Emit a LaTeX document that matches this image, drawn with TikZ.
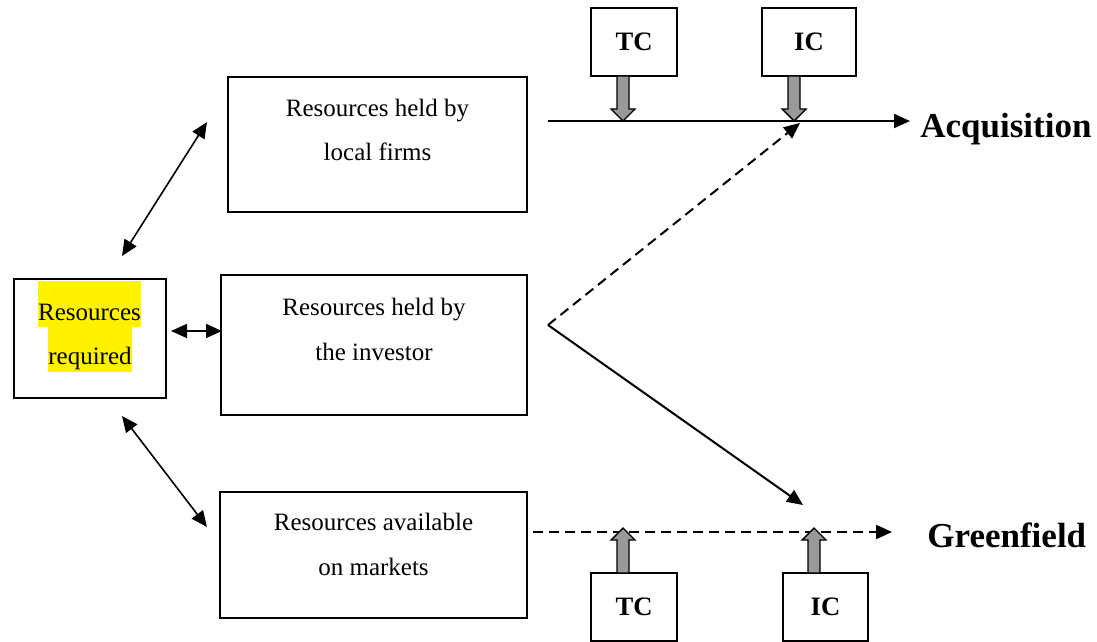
\documentclass[tikz,border=0pt]{standalone}
\usepackage{fontspec}
\setmainfont{Liberation Serif}
\usetikzlibrary{arrows.meta}
\begin{document}
\begin{tikzpicture}[x=0.5pt,y=-0.5pt,
 box/.style={draw, line width=0.9pt, inner sep=0pt},
 txt/.style={font=\fontsize{12.5}{15}\selectfont, inner sep=0pt, anchor=base},
 cost/.style={box, font=\bfseries\fontsize{13.3}{16}\selectfont},
 outcome/.style={font=\bfseries\fontsize{17.5}{21}\selectfont, inner sep=0pt, anchor=base west},
 conn/.style={line width=1pt, -{Triangle[length=8pt,width=7pt]}},
 dbl/.style={line width=0.8pt, {Triangle[length=8pt,width=7pt]}-{Triangle[length=8pt,width=7pt]}},
 gr/.style={draw, line width=0.7pt, fill=gray!80},
 dsh/.style={dash pattern=on 5pt off 3pt}]
\useasboundingbox (0,0) rectangle (1097,642);

% boxes
\node[box, minimum width=149.5pt, minimum height=67.5pt] (local) at (377.5,144.5) {};
\node[box, minimum width=153pt, minimum height=70pt] (inv) at (374,345) {};
\node[box, minimum width=153.5pt, minimum height=63pt] (mkt) at (373.5,555) {};
\node[box, minimum width=76pt, minimum height=59.5pt] (req) at (90,338.5) {};

% texts
\node[txt] (local1) at (377.5,117) {Resources held by};
\node[txt] (local2) at (377.5,161) {local firms};
\node[txt] (inv1) at (374,315) {Resources held by};
\node[txt] (inv2) at (374,360) {the investor};
\node[txt] (mkt1) at (373.5,530) {Resources available};
\node[txt] (mkt2) at (373.5,575) {on markets};
\node[txt, fill=yellow, text height=19.5pt, text depth=3.5pt] (req1) at (89.5,320) {Resources};
\node[txt, fill=yellow, text height=18.5pt, text depth=4pt] (req2) at (90,364) {required};

% cost boxes
\node[cost, minimum width=43pt, minimum height=34pt] (tcTop) at (634,42) {TC};
\node[cost, minimum width=47pt, minimum height=34pt] (icTop) at (809,42) {IC};
\node[cost, minimum width=43pt, minimum height=34pt] (tcBot) at (634,607) {TC};
\node[cost, minimum width=42.5pt, minimum height=34pt] (icBot) at (825.5,607) {IC};

% outcomes
\node[outcome] (acq) at (920,138) {Acquisition};
\node[outcome] (green) at (927,547) {Greenfield};

% main lines
\coordinate (acqS) at (548,121);
\coordinate (acqE) at (910,121);
\coordinate (grS) at (533,532);
\coordinate (grE) at (892,532);
\coordinate (fork) at (548,325);
\coordinate (acqJoin) at (800,123);
\coordinate (grJoin) at (803,505);
\draw[conn] (acqS) -- (acqE);
\draw[conn, dsh] (grS) -- (grE);
\draw[conn, dsh] (fork) -- (acqJoin);
\draw[conn] (fork) -- (grJoin);

% double arrows
\coordinate (d1a) at (122,256); \coordinate (d1b) at (207,122);
\coordinate (d2a) at (171,331); \coordinate (d2b) at (222,331);
\coordinate (d3a) at (122,416); \coordinate (d3b) at (207,527);
\draw[dbl] (d1a) -- (d1b);
\draw[dbl] (d2a) -- (d2b);
\draw[dbl] (d3a) -- (d3b);

% gray block arrows
\draw[gr] (617,76) -- (629,76) -- (629,109) -- (635,109) -- (623,121) -- (611,109) -- (617,109) -- cycle;
\draw[gr] (788,76) -- (800,76) -- (800,109) -- (806,109) -- (794,121) -- (782,109) -- (788,109) -- cycle;
\draw[gr] (617,573) -- (629,573) -- (629,540) -- (635,540) -- (623,528) -- (611,540) -- (617,540) -- cycle;
\draw[gr] (808,573) -- (820,573) -- (820,540) -- (826,540) -- (814,528) -- (802,540) -- (808,540) -- cycle;
\end{tikzpicture}
\end{document}
